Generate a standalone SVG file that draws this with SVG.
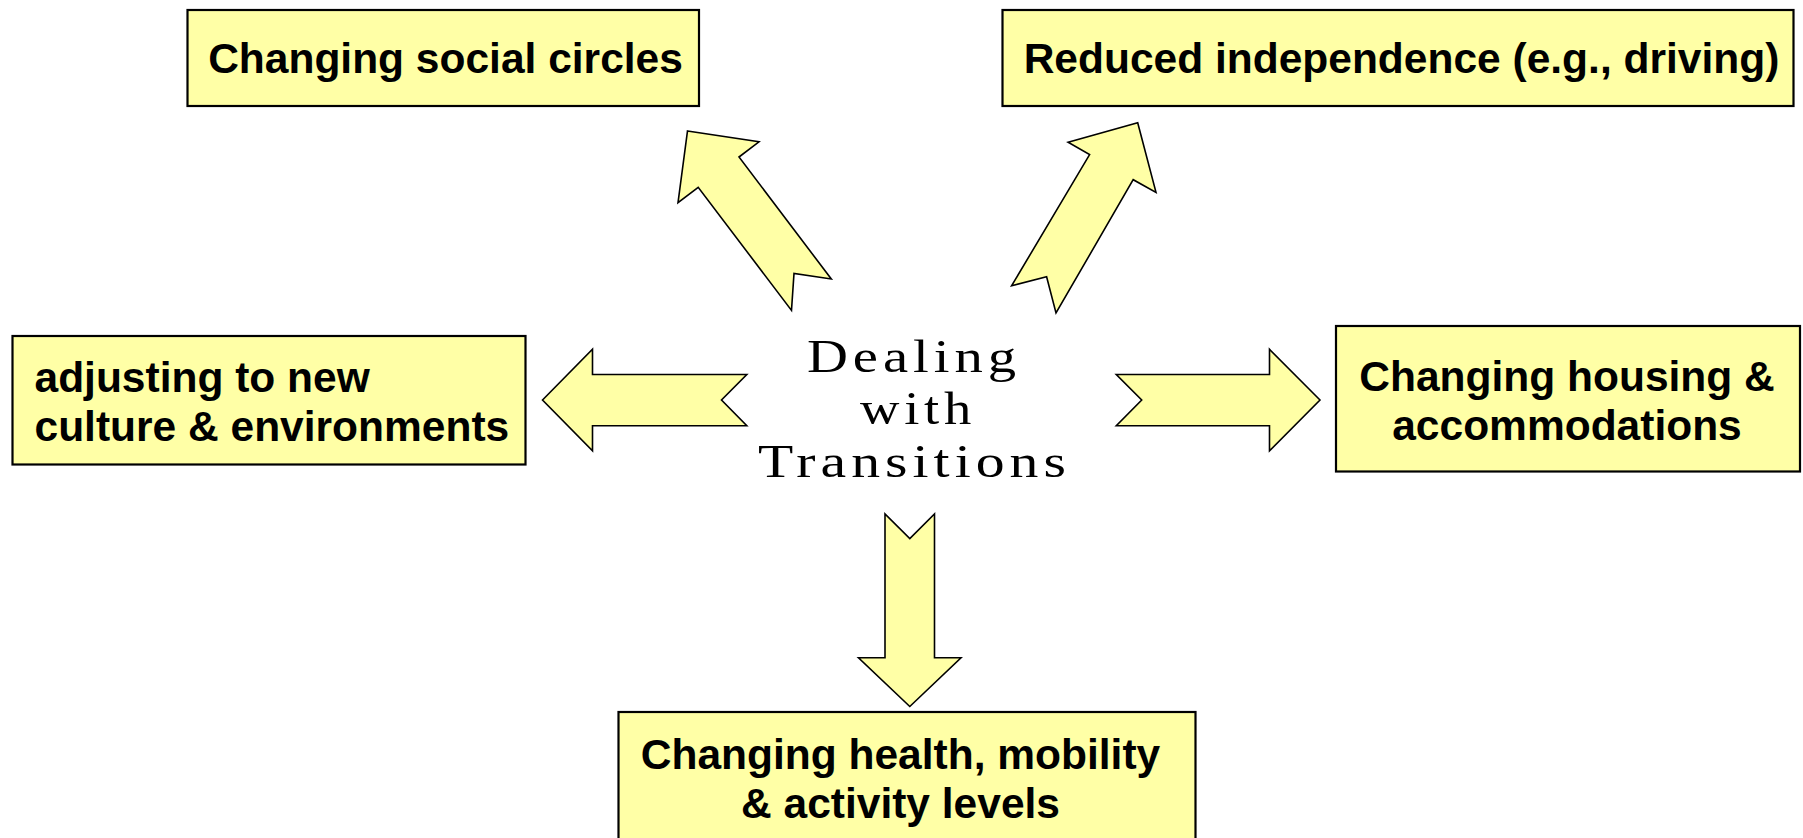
<svg xmlns="http://www.w3.org/2000/svg" width="1803" height="838" viewBox="0 0 1803 838">
<style>
.box{fill:#FFFFA6;stroke:#000;stroke-width:2.2}
.arr{fill:#FFFFA6;stroke:#000;stroke-width:1.6;stroke-linejoin:miter}
.lbl{font-family:"Liberation Sans",Arial,sans-serif;font-weight:bold;font-size:42.5px;fill:#000}
.ctr{font-family:"Liberation Serif","Times New Roman",serif;font-size:46px;fill:#000;letter-spacing:4px}
</style>
<rect width="1803" height="838" fill="#fff"/>
<g id="connectors">
<polygon class="arr" points="687.5,131 759,141.8 739,157 831.3,279 794,273.5 791.5,310.4 698.2,187.3 678,202.6"/>
<polygon class="arr" points="1137.7,122.8 1156,192.4 1133.2,179.7 1056,313 1046.6,276.8 1011.6,285.8 1089.6,154.6 1068.1,142.2"/>
<polygon class="arr" points="542.5,400 592.5,349.3 592.5,374.5 746.8,374.5 721.5,400 746.8,425.8 592.5,425.8 592.5,450.8"/>
<polygon class="arr" points="1320,400 1269.5,349.3 1269.5,374.5 1116.3,374.5 1141.7,400 1116.3,425.8 1269.5,425.8 1269.5,450.8"/>
<polygon class="arr" points="909.8,706.5 858.5,657.8 885,657.8 885,514 909.8,538.5 934.5,514 934.5,657.8 961,657.8"/>
</g>
<g id="center">
<text class="ctr" x="807" y="371.5" textLength="214" lengthAdjust="spacingAndGlyphs">Dealing</text>
<text class="ctr" x="860" y="424" textLength="116" lengthAdjust="spacingAndGlyphs">with</text>
<text class="ctr" x="758" y="476.7" textLength="313" lengthAdjust="spacingAndGlyphs">Transitions</text>
</g>
<g id="social">
<rect class="box" x="187.5" y="10" width="511.5" height="96"/>
<text class="lbl" x="445.5" y="72.5" text-anchor="middle">Changing social circles</text>
</g>
<g id="independence">
<rect class="box" x="1002.5" y="10" width="791" height="96"/>
<text class="lbl" x="1401.5" y="72.5" text-anchor="middle">Reduced independence (e.g., driving)</text>
</g>
<g id="culture">
<rect class="box" x="12.5" y="336" width="513" height="128.5"/>
<text class="lbl" x="34.5" y="392">adjusting to new</text>
<text class="lbl" x="34.5" y="441">culture &amp; environments</text>
</g>
<g id="housing">
<rect class="box" x="1336" y="326" width="464" height="145.5"/>
<text class="lbl" x="1567" y="391" text-anchor="middle">Changing housing &amp;</text>
<text class="lbl" x="1567" y="440" text-anchor="middle">accommodations</text>
</g>
<g id="health">
<rect class="box" x="618.5" y="712" width="577" height="140"/>
<text class="lbl" x="900.5" y="768.5" text-anchor="middle">Changing health, mobility</text>
<text class="lbl" x="900.5" y="817.5" text-anchor="middle">&amp; activity levels</text>
</g>
</svg>
